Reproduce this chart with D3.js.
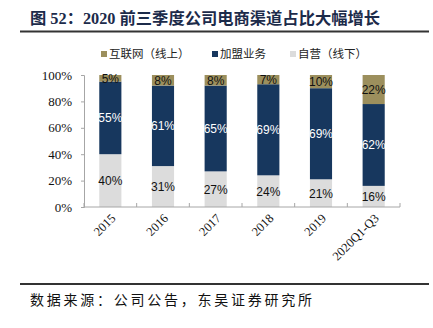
<!DOCTYPE html>
<html>
<head>
<meta charset="utf-8">
<script src="https://cdn.jsdelivr.net/npm/d3@7"></script>
<style>
  body { margin: 0; background: #fff; }
  svg { display: block; }
</style>
</head>
<body>
<div id="chart"></div>
<script>
// data
const categories = ['2015', '2016', '2017', '2018', '2019', '2020Q1-Q3'];
const online = [5, 8, 8, 7, 10, 22];       // 互联网（线上）
const franchise = [55, 61, 65, 69, 69, 62]; // 加盟业务
const selfRun = [40, 31, 27, 24, 21, 16];   // 自营（线下）
const yTicks = [0, 20, 40, 60, 80, 100];

const seriesNames = ['互联网（线上）', '加盟业务', '自营（线下）'];
const colors = {'自营（线下）': '#dcdcdc', '加盟业务': '#17375e', '互联网（线上）': '#9c8f5d'};
const labelColors = {'自营（线下）': '#111', '加盟业务': '#fff', '互联网（线上）': '#111'};

const W = 433, H = 328;
const margin = {top: 75, right: 33, bottom: 121, left: 84};
const width = W - margin.left - margin.right,
      height = H - margin.top - margin.bottom;

const serif = '"Times New Roman", "Liberation Serif", serif';
const cjk = '"Noto Sans CJK SC", sans-serif';
const sans = 'Arial, "Liberation Sans", sans-serif';

const svg = d3.select('#chart').append('svg')
    .attr('width', W).attr('height', H);

// title
svg.append('text')
    .attr('x', 30).attr('y', 24)
    .attr('fill', '#1c2b4a')
    .style('font-family', serif + ', ' + cjk)
    .style('font-weight', 'bold')
    .style('font-size', '16.3px')
    .text('图 52：2020 前三季度公司电商渠道占比大幅增长');

svg.append('line')
    .attr('x1', 20).attr('x2', 429).attr('y1', 31.5).attr('y2', 31.5)
    .attr('stroke', '#333').attr('stroke-width', 2);

svg.append('line')
    .attr('x1', 20).attr('x2', 429).attr('y1', 284).attr('y2', 284)
    .attr('stroke', '#333').attr('stroke-width', 2);

// source
svg.append('text')
    .attr('x', 30).attr('y', 305)
    .attr('fill', '#111')
    .style('font-family', cjk)
    .style('font-size', '14px')
    .style('letter-spacing', '2.75px')
    .text('数据来源：公司公告，东吴证券研究所');

// legend
const legendX = [101, 212, 290];
const legend = svg.append('g').selectAll('g')
    .data(seriesNames)
    .enter().append('g')
    .attr('transform', (d, i) => 'translate(' + legendX[i] + ',54)');
legend.append('rect')
    .attr('x', 0).attr('y', -3).attr('width', 6).attr('height', 6)
    .attr('fill', d => colors[d]);
legend.append('text')
    .attr('x', 8).attr('y', 4)
    .attr('fill', '#222')
    .style('font-family', cjk)
    .style('font-size', '11.5px')
    .text(d => d);

const g = svg.append('g')
    .attr('transform', 'translate(' + margin.left + ',' + margin.top + ')');

const x = d3.scaleBand()
    .domain(categories)
    .range([0, width])
    .paddingInner(0.58)
    .paddingOuter(0.29);

const y = d3.scaleLinear()
    .domain([0, 100])
    .range([height, 0]);

// stacked data
const rows = categories.map((c, i) => ({
    cat: c,
    '自营（线下）': selfRun[i],
    '加盟业务': franchise[i],
    '互联网（线上）': online[i]
}));
const stack = d3.stack().keys(['自营（线下）', '加盟业务', '互联网（线上）']);
const layers = stack(rows);

const layer = g.selectAll('.layer')
    .data(layers)
    .enter().append('g')
    .attr('class', 'layer')
    .attr('fill', d => colors[d.key]);

layer.selectAll('rect')
    .data(d => d)
    .enter().append('rect')
    .attr('x', d => x(d.data.cat))
    .attr('width', x.bandwidth())
    .attr('y', d => y(d[1]))
    .attr('height', d => y(d[0]) - y(d[1]));

layer.selectAll('.lbl')
    .data(d => d.map(v => ({v: v, key: d.key})))
    .enter().append('text')
    .attr('class', 'lbl')
    .attr('x', d => x(d.v.data.cat) + x.bandwidth() / 2)
    .attr('y', d => (y(d.v[0]) + y(d.v[1])) / 2 + 4.5)
    .attr('text-anchor', 'middle')
    .attr('fill', d => labelColors[d.key])
    .style('font-family', sans)
    .style('font-size', '12px')
    .text(d => (d.v[1] - d.v[0]) + '%');

// y axis
const yAxis = g.append('g')
    .call(d3.axisLeft(y).tickValues(yTicks).tickSize(3).tickFormat(d => d + '%'));
yAxis.attr('font-family', null);
yAxis.select('.domain').attr('stroke', '#a6a6a6');
yAxis.selectAll('.tick line').attr('stroke', '#a6a6a6');
yAxis.selectAll('.tick text')
    .attr('x', -12)
    .attr('fill', '#111')
    .style('font-family', serif)
    .style('font-size', '13px');

// x axis, ticks at category boundaries pointing up
const boundaries = categories.map(c => x(c) - x.step() * x.paddingInner() / 2).concat([width]);
const xAxis = g.append('g').attr('transform', 'translate(0,' + height + ')');
xAxis.append('line')
    .attr('x1', 0).attr('x2', width)
    .attr('stroke', '#a6a6a6');
xAxis.selectAll('.xt')
    .data(boundaries)
    .enter().append('line')
    .attr('class', 'xt')
    .attr('x1', d => d).attr('x2', d => d)
    .attr('y1', 0).attr('y2', -4)
    .attr('stroke', '#a6a6a6');
xAxis.selectAll('.xl')
    .data(categories)
    .enter().append('text')
    .attr('class', 'xl')
    .attr('text-anchor', 'end')
    .attr('transform', d => 'translate(' + (x(d) + x.bandwidth() / 2 + 6) + ',12) rotate(-45)')
    .attr('fill', '#111')
    .style('font-family', serif)
    .style('font-size', '12.5px')
    .text(d => d);
</script>
</body>
</html>
